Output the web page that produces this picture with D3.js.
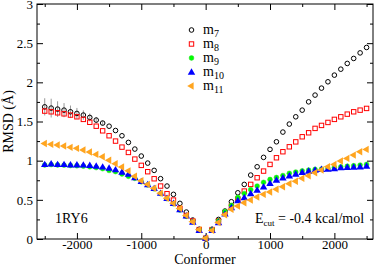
<!DOCTYPE html>
<html>
<head>
<meta charset="utf-8">
<script src="https://cdn.jsdelivr.net/npm/d3@7"></script>
<style>
  body { margin: 0; background: #fff; }
  svg { display: block; font-family: "Liberation Serif", "DejaVu Serif", serif; }
</style>
</head>
<body>
<div id="chart"></div>
<script>
// conformer index, -2500 .. 2500
var conformers = [-2500, -2400, -2300, -2200, -2100, -2000, -1900, -1800, -1700, -1600,
    -1500, -1400, -1300, -1200, -1100, -1000, -900, -800, -700, -600,
    -500, -400, -300, -200, -100, 0, 100, 200, 300, 400,
    500, 600, 700, 800, 900, 1000, 1100, 1200, 1300, 1400,
    1500, 1600, 1700, 1800, 1900, 2000, 2100, 2200, 2300, 2400, 2500];

var m7 = [1.687, 1.671, 1.658, 1.645, 1.624, 1.603, 1.582, 1.552, 1.518, 1.48,
    1.44, 1.385, 1.318, 1.233, 1.148, 1.059, 0.969, 0.876, 0.77, 0.676,
    0.57, 0.455, 0.344, 0.242, 0.124, 0.01, 0.124, 0.25, 0.357, 0.476,
    0.59, 0.697, 0.816, 0.922, 1.042, 1.144, 1.241, 1.365, 1.467, 1.56,
    1.645, 1.751, 1.837, 1.926, 2.007, 2.092, 2.168, 2.241, 2.305, 2.376, 2.445];

var m8 = [1.633, 1.624, 1.611, 1.598, 1.582, 1.56, 1.527, 1.49, 1.44, 1.381,
    1.318, 1.25, 1.173, 1.105, 1.02, 0.94, 0.859, 0.769, 0.676, 0.578,
    0.497, 0.39, 0.3, 0.23, 0.12, 0.01, 0.12, 0.23, 0.33, 0.42,
    0.51, 0.612, 0.697, 0.782, 0.867, 0.952, 1.037, 1.114, 1.177, 1.24,
    1.305, 1.356, 1.412, 1.45, 1.488, 1.527, 1.56, 1.594, 1.624, 1.645, 1.667];

var m9 = [0.945, 0.95, 0.945, 0.942, 0.938, 0.935, 0.93, 0.922, 0.912, 0.898,
    0.875, 0.86, 0.83, 0.8, 0.774, 0.73, 0.69, 0.64, 0.58, 0.515,
    0.45, 0.37, 0.29, 0.22, 0.115, 0.01, 0.12, 0.23, 0.35, 0.43,
    0.53, 0.58, 0.63, 0.676, 0.723, 0.76, 0.785, 0.81, 0.838, 0.855,
    0.87, 0.88, 0.889, 0.893, 0.9, 0.914, 0.922, 0.93, 0.935, 0.944, 0.952];

var m10 = [0.952, 0.96, 0.952, 0.952, 0.948, 0.948, 0.945, 0.94, 0.932, 0.92,
    0.905, 0.885, 0.855, 0.83, 0.785, 0.735, 0.695, 0.645, 0.585, 0.52,
    0.455, 0.375, 0.295, 0.215, 0.11, 0.01, 0.11, 0.21, 0.32, 0.4,
    0.49, 0.53, 0.58, 0.625, 0.667, 0.71, 0.753, 0.782, 0.807, 0.829,
    0.85, 0.867, 0.88, 0.889, 0.893, 0.9, 0.91, 0.914, 0.918, 0.922, 0.93];

var m11 = [1.22, 1.208, 1.199, 1.186, 1.17, 1.157, 1.135, 1.11, 1.08, 1.05,
    1.005, 0.962, 0.92, 0.87, 0.8, 0.745, 0.697, 0.647, 0.583, 0.519,
    0.455, 0.39, 0.3, 0.22, 0.12, 0.01, 0.11, 0.21, 0.31, 0.38,
    0.42, 0.463, 0.497, 0.535, 0.57, 0.6, 0.634, 0.667, 0.705, 0.738,
    0.774, 0.807, 0.846, 0.88, 0.922, 0.952, 0.995, 1.029, 1.071, 1.114, 1.144];

// error bars: m7 on the far left (conformers -2500 .. -1600), m9 on the right (600 .. 2500)
var errM7 = [0.11, 0.12, 0.1, 0.09, 0.08, 0.07, 0.06, 0.05, 0.04, 0.03];
var errM9 = [0.02, 0.02, 0.025, 0.025, 0.025, 0.025, 0.025, 0.025, 0.025, 0.025,
    0.025, 0.025, 0.025, 0.025, 0.025, 0.025, 0.025, 0.025, 0.025, 0.025];

var seriesNames = ["7", "8", "9", "10", "11"];
var xTicks = [-2000, -1000, 0, 1000, 2000];
var xMinor = [-2500, -1500, -500, 500, 1500, 2500];
var yTicks = [0, 0.5, 1, 1.5, 2, 2.5, 3];
var yMinor = [0.25, 0.75, 1.25, 1.75, 2.25, 2.75];

var W = 374, H = 265;
// plot box (note: "top" is reserved on window, so use pl/pr/pt/pb)
var pl = 37, pr = 373, pt = 4, pb = 239;

var svg = d3.select("#chart").append("svg")
    .attr("width", W)
    .attr("height", H);

var x = d3.scaleLinear().domain([-2620, 2600]).range([pl, pr]);
var y = d3.scaleLinear().domain([0, 3]).range([pb, pt]);

function styleAxis(g) {
    g.select(".domain").remove();
    g.selectAll("line").attr("stroke", "#000").attr("stroke-width", 1);
    g.selectAll("text").attr("font-size", 13).attr("fill", "#000")
        .attr("font-family", "Liberation Serif, serif");
}

// major + minor ticks, all pointing inward
svg.append("g").attr("transform", "translate(0," + pb + ")")
    .call(d3.axisBottom(x).tickValues(xTicks).tickSize(-6).tickPadding(1)
        .tickFormat(function(d) { return d; }))
    .call(styleAxis);
svg.append("g").attr("transform", "translate(0," + pb + ")")
    .call(d3.axisBottom(x).tickValues(xMinor).tickSize(-3).tickFormat(""))
    .call(styleAxis);
svg.append("g").attr("transform", "translate(0," + pt + ")")
    .call(d3.axisTop(x).tickValues(xTicks).tickSize(-6).tickFormat(""))
    .call(styleAxis);
svg.append("g").attr("transform", "translate(0," + pt + ")")
    .call(d3.axisTop(x).tickValues(xMinor).tickSize(-3).tickFormat(""))
    .call(styleAxis);

svg.append("g").attr("transform", "translate(" + pl + ",0)")
    .call(d3.axisLeft(y).tickValues(yTicks).tickSize(-6).tickPadding(4)
        .tickFormat(function(d) { return d; }))
    .call(styleAxis);
svg.append("g").attr("transform", "translate(" + pl + ",0)")
    .call(d3.axisLeft(y).tickValues(yMinor).tickSize(-3).tickFormat(""))
    .call(styleAxis);
svg.append("g").attr("transform", "translate(" + pr + ",0)")
    .call(d3.axisRight(y).tickValues(yTicks).tickSize(-6).tickFormat(""))
    .call(styleAxis);
svg.append("g").attr("transform", "translate(" + pr + ",0)")
    .call(d3.axisRight(y).tickValues(yMinor).tickSize(-3).tickFormat(""))
    .call(styleAxis);

// frame
svg.append("rect")
    .attr("x", pl).attr("y", pt)
    .attr("width", pr - pl).attr("height", pb - pt)
    .attr("fill", "none").attr("stroke", "#000").attr("stroke-width", 1);

// axis titles
svg.append("text")
    .attr("x", 205).attr("y", 263.5)
    .attr("text-anchor", "middle").attr("font-size", 14)
    .text("Conformer");
svg.append("text")
    .attr("transform", "translate(13," + ((pt + pb) / 2) + ") rotate(-90)")
    .attr("text-anchor", "middle").attr("font-size", 14)
    .text("RMSD (Å)");

// error bars
var plot = svg.append("g");
plot.selectAll(".err7")
    .data(errM7)
  .enter().append("line")
    .attr("x1", function(d, i) { return x(conformers[i]); })
    .attr("x2", function(d, i) { return x(conformers[i]); })
    .attr("y1", function(d, i) { return y(m7[i] - d); })
    .attr("y2", function(d, i) { return y(m7[i] + d); })
    .attr("stroke", "#999").attr("stroke-width", 1);
plot.selectAll(".err9")
    .data(errM9)
  .enter().append("line")
    .attr("x1", function(d, i) { return x(conformers[i + 31]); })
    .attr("x2", function(d, i) { return x(conformers[i + 31]); })
    .attr("y1", function(d, i) { return y(m9[i + 31] - d); })
    .attr("y2", function(d, i) { return y(m9[i + 31] + d); })
    .attr("stroke", "#00e000").attr("stroke-width", 1);

// marker drawers
var markers = [
    function(g, cx, cy) {
        g.append("circle").attr("cx", cx).attr("cy", cy).attr("r", 2.3)
            .attr("fill", "none").attr("stroke", "#000").attr("stroke-width", 1);
    },
    function(g, cx, cy) {
        g.append("rect").attr("x", cx - 2.2).attr("y", cy - 2.2)
            .attr("width", 4.4).attr("height", 4.4)
            .attr("fill", "none").attr("stroke", "#ff0000").attr("stroke-width", 1);
    },
    function(g, cx, cy) {
        g.append("circle").attr("cx", cx).attr("cy", cy).attr("r", 2.4)
            .attr("fill", "#00ff00").attr("stroke", "#22dd22").attr("stroke-width", 0.5);
    },
    function(g, cx, cy) {
        g.append("path").attr("d", d3.symbol(d3.symbolTriangle, 24)())
            .attr("transform", "translate(" + cx + "," + (cy + 0.5) + ")")
            .attr("fill", "#0000ff");
    },
    function(g, cx, cy) {
        g.append("path").attr("d", d3.symbol(d3.symbolTriangle, 24)())
            .attr("transform", "translate(" + cx + "," + cy + ") rotate(-90)")
            .attr("fill", "#ffa520");
    }
];

var allSeries = [m7, m8, m9, m10, m11];
allSeries.forEach(function(vals, s) {
    var g = plot.append("g").attr("class", "series-m" + seriesNames[s]);
    vals.forEach(function(v, i) {
        markers[s](g, x(conformers[i]), y(v));
    });
});

// legend
var legend = svg.append("g");
seriesNames.forEach(function(name, s) {
    var ly = 30 + s * 14;
    markers[s](legend, 191.5, ly);
    var t = legend.append("text")
        .attr("x", 203).attr("y", ly + 3.5)
        .attr("font-size", 14);
    t.append("tspan").text("m");
    t.append("tspan").attr("dy", 3).attr("font-size", 10).text(name);
});

// annotations
svg.append("text")
    .attr("x", 55).attr("y", 223)
    .attr("font-size", 14)
    .text("1RY6");
var ecut = svg.append("text")
    .attr("x", 255).attr("y", 222.5)
    .attr("font-size", 14);
ecut.append("tspan").text("E");
ecut.append("tspan").attr("dy", 3).attr("font-size", 9).text("cut");
ecut.append("tspan").attr("dy", -3).text(" = -0.4 kcal/mol");
</script>
</body>
</html>
